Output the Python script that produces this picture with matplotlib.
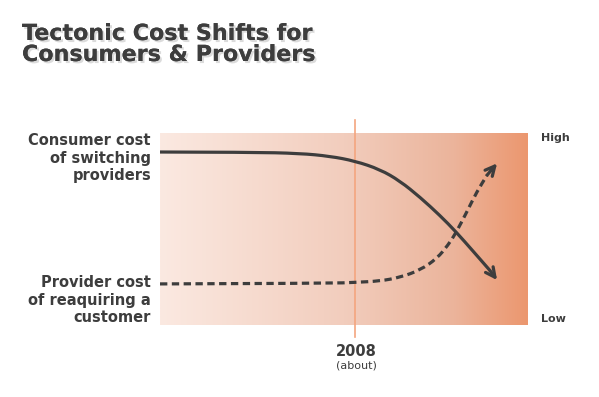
import numpy as np
import matplotlib
matplotlib.use("Agg")
import matplotlib.pyplot as plt
import matplotlib.patheffects as pe
from matplotlib.colors import LinearSegmentedColormap
from matplotlib.path import Path
from matplotlib.patches import PathPatch

# time axis runs 0..100 across the shaded box, cost 0 (low) .. 100 (high)
year_x = 53.0
year_label = "2008"

consumer_x = [0, 24.5, 38.0, 46.2, 53.0, 59.8, 65.2, 70.7, 76.1, 80.4, 85.1, 89.7, 91.6]
consumer_y = [90.1, 90.0, 89.4, 87.9, 85.4, 81.0, 75.0, 66.5, 57.0, 48.6, 38.4, 28.3, 23.4]

provider_x = [0, 46.2, 53.0, 59.8, 65.2, 70.7, 75.3, 78.3, 80.4, 83.4, 86.1, 88.9, 91.6]
provider_y = [21.4, 21.7, 22.2, 22.9, 24.8, 28.6, 34.7, 41.7, 47.9, 59.0, 69.4, 78.1, 84.2]

consumer_label = ["Consumer cost", "of switching", "providers"]
provider_label = ["Provider cost", "of reaquiring a", "customer"]
title_lines = ["Tectonic Cost Shifts for", "Consumers & Providers"]

grad_stops = [(0.0, "#fbe9e1"), (0.5, "#f2cdbd"), (0.8, "#ebb49b"), (1.0, "#ec976f")]

dark = "#3d3d3d"
W, H = 599, 397
fig = plt.figure(figsize=(W / 100, H / 100), dpi=100)

def px(x, y):
    return x / W, 1 - y / H

def smooth_path(xs, ys):
    # quadratic bezier through midpoints, the read points act as control points
    pts = list(zip(xs, ys))
    verts, codes = [pts[0]], [Path.MOVETO]
    for i in range(1, len(pts) - 1):
        mid = ((pts[i][0] + pts[i + 1][0]) / 2, (pts[i][1] + pts[i + 1][1]) / 2)
        verts += [pts[i], mid]
        codes += [Path.CURVE3, Path.CURVE3]
    verts.append(pts[-1])
    codes.append(Path.LINETO)
    return Path(verts, codes)

ax = fig.add_axes([160 / W, (H - 325) / H, 368 / W, 192 / H])
ax.set_xlim(0, 100)
ax.set_ylim(0, 100)
ax.axis("off")

cmap = LinearSegmentedColormap.from_list("peach", grad_stops)
ax.imshow(np.linspace(0, 1, 256)[None, :], cmap=cmap, extent=[0, 100, 0, 100],
          aspect="auto", zorder=0)

ax.plot([year_x, year_x], [-6.3, 106.8], color="#f4a57f", lw=1.2, clip_on=False, zorder=1)

lw = 2.3
ax.add_patch(PathPatch(smooth_path(consumer_x[:-1], consumer_y[:-1]), fill=False,
                       edgecolor=dark, lw=lw, capstyle="butt", zorder=3))
ax.annotate("", xy=(consumer_x[-1], consumer_y[-1]), xytext=(consumer_x[-2], consumer_y[-2]),
            arrowprops=dict(arrowstyle="->", color=dark, lw=lw, mutation_scale=17,
                            shrinkA=0, shrinkB=0), zorder=3)

ax.add_patch(PathPatch(smooth_path(provider_x[:-1], provider_y[:-1]), fill=False,
                       edgecolor=dark, lw=lw, linestyle=(0, (2.3, 1.4)), zorder=3))
ax.annotate("", xy=(provider_x[-1], provider_y[-1]), xytext=(provider_x[-2], provider_y[-2]),
            arrowprops=dict(arrowstyle="->", color=dark, lw=lw, mutation_scale=17,
                            shrinkA=0, shrinkB=0), zorder=3)

shadow = [pe.withSimplePatchShadow(offset=(1.5, -1.5), shadow_rgbFace="#9a9a9a", alpha=0.35),
          pe.Normal()]
for line, base in zip(title_lines, [40, 61]):
    fig.text(*px(22, base), line, fontsize=16, fontweight="bold", color=dark,
             ha="left", va="baseline", path_effects=shadow)

for line, base in zip(consumer_label, [145, 162.5, 180]):
    fig.text(*px(151, base), line, fontsize=10.5, fontweight="bold", color=dark,
             ha="right", va="baseline")
for line, base in zip(provider_label, [287, 304.5, 322]):
    fig.text(*px(151, base), line, fontsize=10.5, fontweight="bold", color=dark,
             ha="right", va="baseline")

fig.text(*px(541, 141.5), "High", fontsize=8, fontweight="bold", color=dark, ha="left", va="baseline")
fig.text(*px(541, 321.5), "Low", fontsize=8, fontweight="bold", color=dark, ha="left", va="baseline")

fig.text(*px(356, 356.5), year_label, fontsize=10.5, fontweight="bold", color=dark,
         ha="center", va="baseline")
fig.text(*px(356, 369), "(about)", fontsize=8, color=dark, ha="center", va="baseline")

fig.savefig("out.png", dpi=100)
